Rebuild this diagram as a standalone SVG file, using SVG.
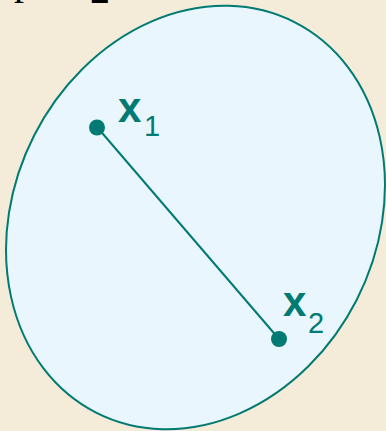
<svg xmlns="http://www.w3.org/2000/svg" width="386" height="431" viewBox="0 0 386 431">
<style>
.lbl{fill:#007a72;font-family:"Liberation Sans",Arial,sans-serif}
.b{font-weight:bold;font-size:42px}
.s{font-size:29px}
.top{fill:#000;font-family:"Liberation Serif","Times New Roman",serif;font-size:40px}
</style>
<rect width="386" height="431" fill="#f4ebd9"/>
<text class="top" x="14" y="-6">p</text>
<text class="top" x="90" y="3">2</text>
<g id="set">
<ellipse cx="195.5" cy="217.5" rx="181" ry="219" transform="rotate(27 195.5 217.5)" fill="#e9f6fe" stroke="#007a72" stroke-width="2"/>
</g>
<g id="connectors">
<line x1="97" y1="127" x2="279" y2="339" stroke="#007a72" stroke-width="2"/>
</g>
<g id="x1">
<circle cx="97" cy="127.5" r="8" fill="#007a72"/>
<text class="lbl b" x="118" y="122">x</text>
<text class="lbl s" x="144" y="136">1</text>
</g>
<g id="x2">
<circle cx="279" cy="339" r="8" fill="#007a72"/>
<text class="lbl b" x="283" y="316">x</text>
<text class="lbl s" x="308" y="333">2</text>
</g>
</svg>
